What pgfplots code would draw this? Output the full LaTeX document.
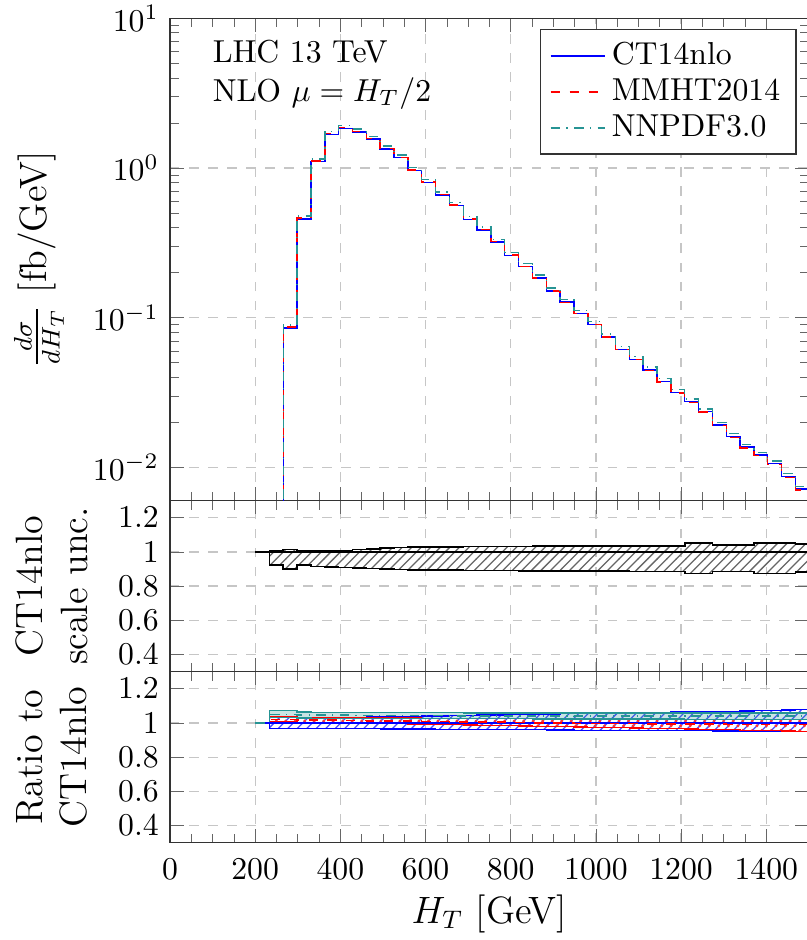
\documentclass[border=0pt]{standalone}
\usepackage{pgfplots}
\pgfplotsset{compat=1.18}
\usepackage{pgfplotstable}
\usetikzlibrary{patterns,calc}
\usepgfplotslibrary{fillbetween}

\definecolor{nncol}{rgb}{0.15,0.58,0.58}

\pgfplotstableread{
x ct mm nn
233.5 0.0001 0.0001 0.0001
266 0.0855 0.0864 0.0893
298.5 0.457 0.462 0.478
331 1.10 1.111 1.150
363.5 1.68 1.697 1.756
396 1.84 1.858 1.923
428.5 1.74 1.757 1.818
461 1.56 1.574 1.630
493.5 1.34 1.352 1.400
526 1.17 1.180 1.223
558.5 0.96 0.968 1.003
591 0.80 0.806 0.836
623.5 0.66 0.665 0.690
656 0.561 0.565 0.586
688.5 0.453 0.456 0.473
721 0.386 0.388 0.403
753.5 0.32 0.3215 0.334
786 0.261 0.262 0.273
818.5 0.220 0.2205 0.2299
851 0.184 0.184 0.1923
883.5 0.151 0.151 0.1578
916 0.127 0.1268 0.1327
948.5 0.1066 0.1063 0.1114
981 0.090 0.0897 0.0940
1013.5 0.0745 0.0742 0.0778
1046 0.0614 0.0611 0.0641
1078.5 0.0527 0.0524 0.0550
1111 0.0447 0.0444 0.0467
1143.5 0.0374 0.0371 0.0391
1176 0.0316 0.0313 0.0330
1208.5 0.0275 0.0272 0.0287
1241 0.0236 0.0234 0.0246
1273.5 0.0192 0.0190 0.0200
1306 0.0161 0.0159 0.0168
1338.5 0.01367 0.01350 0.01425
1371 0.0121 0.01195 0.01261
1403.5 0.01057 0.01043 0.01101
1436 0.0087 0.00858 0.00906
1468.5 0.00718 0.00708 0.00748
1500 0.00718 0.00708 0.00748
}\maintab

\pgfplotstableread{
x lo hi c
200 1 1 1
233.5 0.924 1.006 1
266 0.900 1.013 1
298.5 0.924 1.008 1
331 0.915 1.004 1
363.5 0.912 1.004 1
396 0.909 1.008 1
428.5 0.905 1.014 1
461 0.902 1.018 1
493.5 0.899 1.022 1
526 0.897 1.026 1
558.5 0.895 1.028 1
591 0.894 1.029 1
623.5 0.894 1.030 1
656 0.893 1.030 1
688.5 0.892 1.031 1
721 0.892 1.031 1
753.5 0.891 1.032 1
786 0.891 1.032 1
818.5 0.890 1.032 1
851 0.890 1.033 1
883.5 0.889 1.033 1
916 0.889 1.033 1
948.5 0.888 1.034 1
981 0.888 1.034 1
1013.5 0.887 1.034 1
1046 0.887 1.035 1
1078.5 0.886 1.035 1
1111 0.886 1.035 1
1143.5 0.885 1.036 1
1176 0.885 1.036 1
1208.5 0.873 1.053 1
1241 0.873 1.053 1
1273.5 0.886 1.042 1
1306 0.886 1.042 1
1338.5 0.886 1.042 1
1371 0.873 1.053 1
1403.5 0.873 1.053 1
1436 0.873 1.053 1
1468.5 0.883 1.045 1
1500 0.883 1.045 1
}\scaletab

\pgfplotstableread{
x cthi ctlo ctc mmc mmhi mmlo nnc nnhi nnlo
200 1 1 1 1 1 1 1 1 1
233.5 1.030 0.968 1 1.020 1.035 1.005 1.050 1.073 1.030
266 1.030 0.968 1 1.020 1.035 1.005 1.050 1.073 1.030
298.5 1.031 0.968 1 1.018 1.033 1.003 1.046 1.064 1.029
331 1.031 0.968 1 1.017 1.032 1.002 1.045 1.063 1.028
363.5 1.032 0.967 1 1.016 1.032 1.001 1.045 1.063 1.028
396 1.033 0.967 1 1.015 1.031 1.000 1.045 1.062 1.028
428.5 1.034 0.966 1 1.014 1.031 0.999 1.044 1.062 1.028
461 1.035 0.966 1 1.013 1.030 0.997 1.044 1.062 1.027
493.5 1.036 0.965 1 1.012 1.030 0.996 1.044 1.061 1.027
526 1.037 0.965 1 1.011 1.029 0.995 1.043 1.061 1.027
558.5 1.038 0.964 1 1.010 1.029 0.994 1.043 1.061 1.027
591 1.040 0.964 1 1.009 1.028 0.993 1.043 1.060 1.026
623.5 1.041 0.963 1 1.008 1.028 0.991 1.043 1.060 1.026
656 1.043 0.963 1 1.007 1.027 0.990 1.042 1.060 1.026
688.5 1.044 0.962 1 1.006 1.027 0.988 1.042 1.059 1.026
721 1.046 0.962 1 1.005 1.026 0.987 1.042 1.059 1.025
753.5 1.047 0.961 1 1.004 1.026 0.985 1.042 1.059 1.025
786 1.049 0.961 1 1.003 1.025 0.984 1.041 1.059 1.025
818.5 1.050 0.960 1 1.002 1.025 0.982 1.041 1.058 1.025
851 1.052 0.960 1 1.001 1.024 0.981 1.041 1.058 1.024
883.5 1.053 0.959 1 1.000 1.024 0.979 1.041 1.058 1.024
916 1.055 0.959 1 0.999 1.023 0.978 1.041 1.058 1.024
948.5 1.056 0.958 1 0.998 1.023 0.976 1.040 1.058 1.024
981 1.058 0.958 1 0.998 1.023 0.975 1.040 1.058 1.024
1013.5 1.059 0.957 1 0.997 1.022 0.973 1.040 1.058 1.023
1046 1.060 0.957 1 0.996 1.022 0.972 1.040 1.058 1.023
1078.5 1.061 0.956 1 0.996 1.022 0.970 1.040 1.058 1.023
1111 1.062 0.956 1 0.995 1.022 0.969 1.040 1.058 1.023
1143.5 1.063 0.955 1 0.995 1.021 0.967 1.040 1.058 1.023
1176 1.064 0.955 1 0.994 1.021 0.966 1.040 1.058 1.023
1208.5 1.066 0.954 1 0.994 1.021 0.964 1.040 1.058 1.022
1241 1.067 0.954 1 0.993 1.021 0.963 1.040 1.058 1.022
1273.5 1.068 0.953 1 0.993 1.021 0.961 1.040 1.058 1.022
1306 1.069 0.953 1 0.992 1.020 0.960 1.040 1.058 1.022
1338.5 1.070 0.952 1 0.992 1.020 0.958 1.040 1.058 1.022
1371 1.074 0.951 1 0.991 1.020 0.956 1.040 1.058 1.022
1403.5 1.075 0.951 1 0.991 1.020 0.955 1.040 1.058 1.022
1436 1.076 0.950 1 0.990 1.020 0.953 1.040 1.058 1.022
1468.5 1.077 0.950 1 0.990 1.020 0.952 1.040 1.058 1.022
1500 1.077 0.950 1 0.990 1.020 0.952 1.040 1.058 1.022
}\pdftab

\pgfplotsset{
  base/.style={
    width=201.3pt, scale only axis,
    xmin=0, xmax=1500,
    xtick={0,200,...,1400},
    minor x tick num=3,
    grid=major,
    major grid style={dashed, gray!45, line width=0.4pt},
    tick style={black!60},
    axis line style={black!80},
    label style={font=\large},
    x tick label style={/pgf/number format/set thousands separator={}, yshift=-1.5pt},
  },
  ratio/.style={
    base, height=53.9pt,
    ymin=0.3, ymax=1.3,
    ytick={0.4,0.6,0.8,1,1.2},
    ylabel style={at={(axis description cs:-0.185,0.5)}, anchor=center, align=center},
  },
}

\begin{document}
\begin{tikzpicture}
\begin{axis}[base, name=main, height=151.96pt,
  ymode=log, ymin=0.006, ymax=10,
  ytick={0.01,0.1,1,10},
  xticklabels={},
  ylabel={$\frac{d\sigma}{dH_T}$ [fb/GeV]},
  ylabel style={at={(axis description cs:-0.205,0.5)}, anchor=center},
  legend style={at={(axis description cs:0.981,0.978)}, anchor=north east,
    draw=black!80, cells={anchor=west}, font=\normalsize, row sep=-1pt},
]
\addplot[blue, const plot mark left, line width=0.45pt] table[x=x, y=ct] {\maintab};
\addlegendentry{CT14nlo}
\addplot[red, dashed, const plot mark left, line width=0.45pt] table[x=x, y=mm] {\maintab};
\addlegendentry{MMHT2014}
\addplot[nncol, dash dot, const plot mark left, line width=0.45pt] table[x=x, y=nn] {\maintab};
\addlegendentry{NNPDF3.0}
\node[anchor=north west, align=left, inner sep=0pt] at (rel axis cs:0.066,0.955)
  {LHC 13 TeV\\NLO $\mu=H_T/2$};
\end{axis}

\begin{axis}[ratio, name=mid, at={(main.south west)}, anchor=north west,
  xticklabels={},
  ylabel={CT14nlo\\scale unc.},
]
\addplot[black, const plot mark left, name path=shi, line width=0.5pt] table[x=x, y=hi] {\scaletab};
\addplot[black, const plot mark left, name path=slo, line width=0.5pt] table[x=x, y=lo] {\scaletab};
\addplot[pattern=north east lines, pattern color=black!60, draw=none] fill between[of=shi and slo];
\addplot[black, const plot mark left, line width=0.6pt] table[x=x, y=c] {\scaletab};
\end{axis}

\begin{axis}[ratio, name=bot, at={(mid.south west)}, anchor=north west,
  xlabel={$H_T$ [GeV]},
  xlabel style={yshift=2pt},
  ylabel={Ratio to\\CT14nlo},
]
\addplot[blue, const plot mark left, name path=cth, line width=0.4pt] table[x=x, y=cthi] {\pdftab};
\addplot[blue, const plot mark left, name path=ctl, line width=0.4pt] table[x=x, y=ctlo] {\pdftab};
\addplot[pattern=north east lines, pattern color=blue!70, draw=none] fill between[of=cth and ctl];
\addplot[red, const plot mark left, name path=mmh, line width=0.4pt] table[x=x, y=mmhi] {\pdftab};
\addplot[red, const plot mark left, name path=mml, line width=0.4pt] table[x=x, y=mmlo] {\pdftab};
\addplot[pattern=crosshatch dots, pattern color=red!80, draw=none] fill between[of=mmh and mml];
\addplot[nncol, const plot mark left, name path=nnh, line width=0.4pt] table[x=x, y=nnhi] {\pdftab};
\addplot[nncol, const plot mark left, name path=nnl, line width=0.4pt] table[x=x, y=nnlo] {\pdftab};
\addplot[nncol, fill opacity=0.25, draw=none] fill between[of=nnh and nnl];
\addplot[blue, const plot mark left, line width=0.5pt] table[x=x, y=ctc] {\pdftab};
\addplot[red, dashed, const plot mark left, line width=0.5pt] table[x=x, y=mmc] {\pdftab};
\addplot[nncol, dash dot, const plot mark left, line width=0.5pt] table[x=x, y=nnc] {\pdftab};
\end{axis}

\pgfresetboundingbox
\path[use as bounding box] ($(main.north west)+(-53.55pt,5.76pt)$) rectangle ($(bot.south west)+(200.66pt,-30.65pt)$);
\end{tikzpicture}
\end{document}
